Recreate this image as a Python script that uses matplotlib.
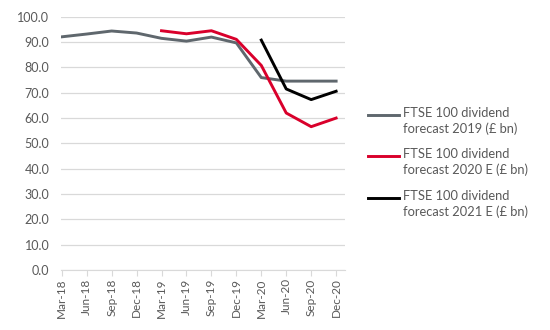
import matplotlib
matplotlib.use("Agg")
import matplotlib.pyplot as plt
from matplotlib.lines import Line2D

quarters = ['Mar-18', 'Jun-18', 'Sep-18', 'Dec-18', 'Mar-19', 'Jun-19',
            'Sep-19', 'Dec-19', 'Mar-20', 'Jun-20', 'Sep-20', 'Dec-20']

# forecast 2019: whole range
fc2019 = [92.1, 93.2, 94.4, 93.6, 91.5, 90.4, 92.0, 89.7, 76.0, 74.6, 74.6, 74.6]
# forecast 2020 E: from Mar-19
fc2020_x = quarters[4:]
fc2020 = [94.5, 93.3, 94.5, 91.1, 80.8, 62.0, 56.6, 60.0]
# forecast 2021 E: from Mar-20
fc2021_x = quarters[8:]
fc2021 = [90.8, 71.5, 67.3, 70.6]

labels = ["FTSE 100 dividend\nforecast 2019 (\u00a3 bn)",
          "FTSE 100 dividend\nforecast 2020 E (\u00a3 bn)",
          "FTSE 100 dividend\nforecast 2021 E (\u00a3 bn)"]
colors = ['#5f676d', '#d9002b', '#000000']

plt.rcParams['font.family'] = ['Lato', 'DejaVu Sans']
txt = '#595959'

fig = plt.figure(figsize=(5.5, 3.3), dpi=100)
ax = fig.add_axes([0.11, 0.182, 0.517, 0.767])

idx = {q: i for i, q in enumerate(quarters)}
ax.plot(range(len(quarters)), fc2019, color=colors[0], lw=2.1, solid_joinstyle='round')
ax.plot([idx[q] for q in fc2020_x], fc2020, color=colors[1], lw=2.1, solid_joinstyle='round')
ax.plot([idx[q] for q in fc2021_x], fc2021, color=colors[2], lw=2.1, solid_joinstyle='round')

ax.set_ylim(0, 100)
ax.set_xlim(-0.05, 11.35)
ax.set_yticks(range(0, 101, 10))
ax.set_yticklabels([f"{v:.1f}" for v in range(0, 101, 10)], fontsize=9, color=txt)
ax.set_xticks(range(len(quarters)))
ax.set_xticklabels(quarters, rotation=90, fontsize=8.5, color=txt)
ax.grid(axis='y', color='#d9d9d9', lw=0.9)
ax.set_axisbelow(True)
for s in ['top', 'right', 'left']:
    ax.spines[s].set_visible(False)
ax.spines['bottom'].set_color('#d9d9d9')
ax.tick_params(axis='y', length=0, pad=8)
ax.tick_params(axis='x', length=4, color='#d9d9d9', pad=2)

# legend drawn by hand so the line sits beside the first text line
ys = [0.652, 0.527, 0.400]
for y, lab, c in zip(ys, labels, colors):
    fig.add_artist(Line2D([0.669, 0.726], [y, y], color=c, lw=2.1,
                          transform=fig.transFigure))
    fig.text(0.733, y + 0.024, lab, fontsize=9.3, color=txt, va='top',
             linespacing=1.3)

fig.savefig("out.png", dpi=100)
